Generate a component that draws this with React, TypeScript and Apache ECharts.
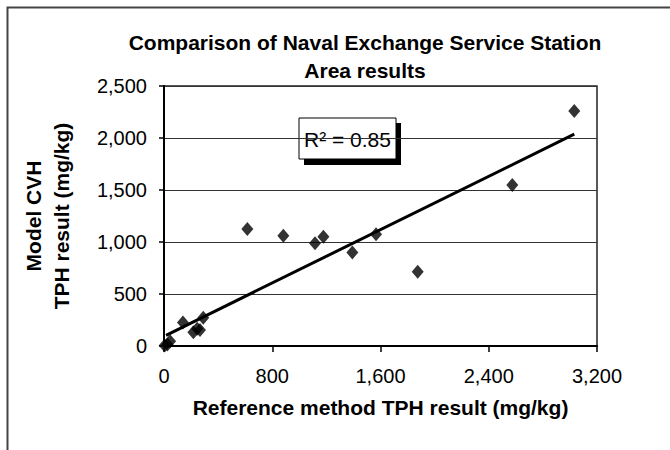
import React, { useEffect, useRef } from "react";
import * as echarts from "echarts";

const titleLines = ["Comparison of Naval Exchange Service Station", "Area results"];
const xAxisTitle = "Reference method TPH result (mg/kg)";
const yAxisTitleLines = ["Model CVH", "TPH result (mg/kg)"];
const r2Label = "R\u00B2 = 0.85";

const refTPH = [5, 25, 45, 140, 217, 245, 266, 290, 616, 882, 1116, 1178, 1392, 1567, 1875, 2574, 3032];
const modelTPH = [5, 15, 45, 225, 132, 165, 154, 272, 1125, 1061, 987, 1051, 900, 1074, 715, 1548, 2260];

const trendX = [15, 3032];
const trendY = [103, 2037];

const xTicks = [0, 800, 1600, 2400, 3200];
const yTicks = [0, 500, 1000, 1500, 2000, 2500];

const FONT = "'Liberation Sans', Arial, sans-serif";

export default function App() {
  const ref = useRef<HTMLDivElement>(null);
  useEffect(() => {
    if (!ref.current) return;
    document.body.style.margin = "0";
    const chart = echarts.init(ref.current, null, { renderer: "svg" });
    const fmt = (v: number) => v.toLocaleString("en-US");
    chart.setOption({
      animation: false,
      backgroundColor: "#ffffff",
      textStyle: { fontFamily: FONT },
      title: {
        text: titleLines.join("\n"),
        left: 365,
        top: 28,
        padding: 0,
        textAlign: "center",
        textStyle: {
          fontFamily: FONT,
          fontSize: 21,
          fontWeight: "bold",
          color: "#000",
          lineHeight: 28,
        },
      },
      grid: {
        left: 164,
        right: 73,
        top: 86,
        bottom: 104,
        show: true,
        borderColor: "#222",
        borderWidth: 1.5,
        backgroundColor: "transparent",
      },
      xAxis: {
        type: "value",
        min: xTicks[0],
        max: xTicks[xTicks.length - 1],
        interval: 800,
        name: xAxisTitle,
        nameLocation: "middle",
        nameGap: 51,
        nameTextStyle: { fontFamily: FONT, fontSize: 21, fontWeight: "bold", color: "#000" },
        axisLine: { show: true, onZero: false, lineStyle: { color: "#000", width: 2 } },
        axisTick: { show: true, inside: false, length: 6, lineStyle: { color: "#000", width: 1.5 } },
        axisLabel: { margin: 20, fontFamily: FONT, fontSize: 20, color: "#000", formatter: fmt },
        splitLine: { show: false },
      },
      yAxis: {
        type: "value",
        min: yTicks[0],
        max: yTicks[yTicks.length - 1],
        interval: 500,
        axisLine: { show: true, onZero: false, lineStyle: { color: "#000", width: 2 } },
        axisTick: { show: true, inside: false, length: 5, lineStyle: { color: "#000", width: 1.5 } },
        axisLabel: { margin: 17, fontFamily: FONT, fontSize: 20, color: "#000", formatter: fmt },
        splitLine: { show: true, lineStyle: { color: "#333", width: 1 } },
      },
      series: [
        {
          type: "line",
          data: trendX.map((x, i) => [x, trendY[i]]),
          showSymbol: false,
          symbol: "none",
          lineStyle: { color: "#000", width: 3 },
          z: 3,
          silent: true,
        },
        {
          type: "scatter",
          data: refTPH.map((x, i) => [x, modelTPH[i]]),
          symbol: "diamond",
          symbolSize: [12, 14],
          itemStyle: { color: "#000" },
          z: 4,
        },
      ],
      graphic: [
        {
          type: "rect",
          left: 5,
          top: 5,
          shape: { width: 700, height: 500 },
          style: { fill: "none", stroke: "#444", lineWidth: 2 },
          silent: true,
          z: 1,
        },
        {
          type: "group",
          z: 10,
          children: [
            {
              type: "rect",
              x: 304,
              y: 123,
              shape: { width: 97, height: 42 },
              style: { fill: "#000" },
            },
            {
              type: "rect",
              x: 299,
              y: 118,
              shape: { width: 97, height: 41 },
              style: { fill: "#fff", stroke: "#000", lineWidth: 1 },
            },
            {
              type: "text",
              x: 347.5,
              y: 139,
              style: {
                text: r2Label,
                fontFamily: FONT,
                fontSize: 21,
                fill: "#000",
                align: "center",
                verticalAlign: "middle",
              },
            },
          ],
        },
        {
          type: "text",
          x: 47,
          y: 216,
          rotation: Math.PI / 2,
          style: {
            text: yAxisTitleLines.join("\n"),
            fontFamily: FONT,
            fontSize: 21,
            fontWeight: "bold",
            fill: "#000",
            lineHeight: 28,
            align: "center",
            verticalAlign: "middle",
          },
        },
      ],
    });
    return () => chart.dispose();
  }, []);
  return <div ref={ref} style={{ width: 670, height: 450 }} />;
}
